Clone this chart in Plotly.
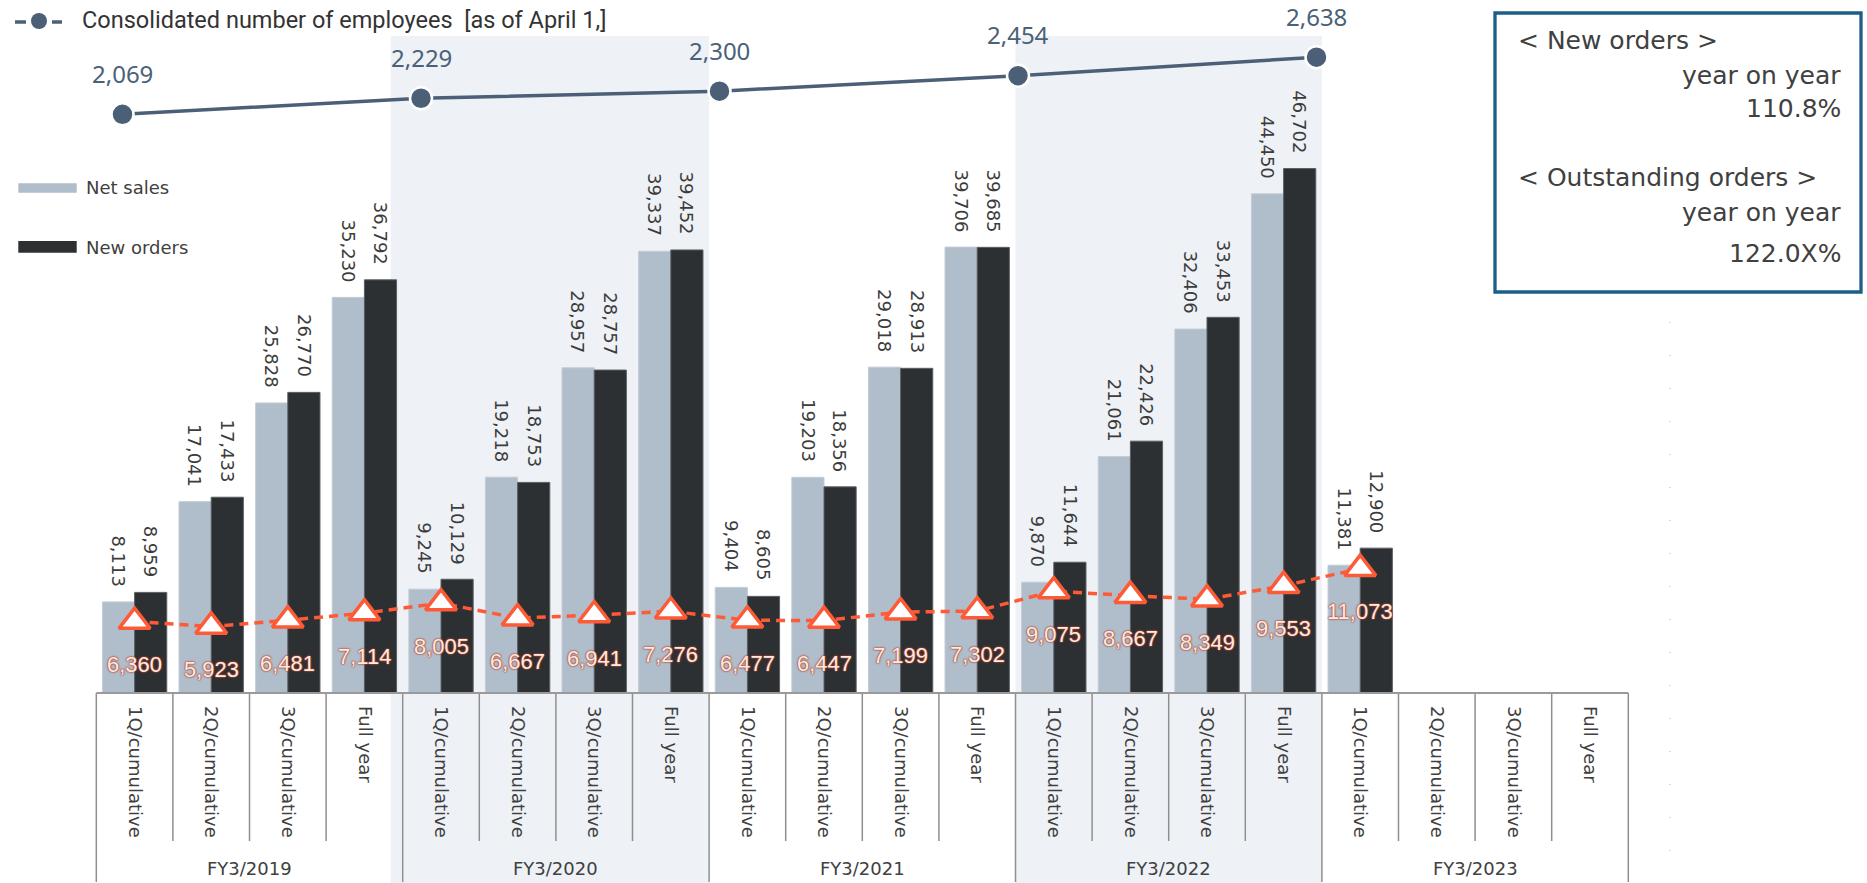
import plotly.graph_objects as go

# ---------------- data ----------------
quarters = ["1Q/cumulative", "2Q/cumulative", "3Q/cumulative", "Full year"]
fiscal_years = ["FY3/2019", "FY3/2020", "FY3/2021", "FY3/2022", "FY3/2023"]
net_sales = [8113, 17041, 25828, 35230, 9245, 19218, 28957, 39337,
             9404, 19203, 29018, 39706, 9870, 21061, 32406, 44450, 11381]
new_orders = [8959, 17433, 26770, 36792, 10129, 18753, 28757, 39452,
              8605, 18356, 28913, 39685, 11644, 22426, 33453, 46702, 12900]
outstanding = [6360, 5923, 6481, 7114, 8005, 6667, 6941, 7276,
               6477, 6447, 7199, 7302, 9075, 8667, 8349, 9553, 11073]
employees = [2069, 2229, 2300, 2454, 2638]
employee_legend = "Consolidated number of employees  [as of April 1,]"
bar_legend = ["Net sales", "New orders"]
box_lines = ["< New orders >", "year on year", "110.8%",
             "< Outstanding orders >", "year on year", "122.0X%"]
shaded_years = ["FY3/2020", "FY3/2022"]

# ---------------- geometry (pixels) ----------------
W, H = 1867, 883
BASE = 693            # baseline of bars in px from top
X_LEFT, X_RIGHT = 96.3, 1628.3
n_slots = len(quarters) * len(fiscal_years)
SLOT = (X_RIGHT - X_LEFT) / n_slots
PX_PER_UNIT = 0.01123
EMP_PX_PER_UNIT = 0.1003
EMP_BASE_PX = 578.7   # px above baseline of first employee point


def px(x):
    return x / W


def py(y):
    return (BASE - y) / BASE


slot_idx = list(range(len(net_sales)))
SALES_C = "#B0BDCA"
ORDERS_C = "#2C3033"
ORANGE = "#FF5A36"
EMP_C = "#4B5F77"
TXT = "#404040"
SANS = "DejaVu Sans"

fig = go.Figure()

fig.add_trace(go.Bar(x=slot_idx, y=net_sales, name=bar_legend[0],
                     marker=dict(color=SALES_C, line=dict(color="#c3ccd6", width=1)),
                     hoverinfo="skip"))
fig.add_trace(go.Bar(x=slot_idx, y=new_orders, name=bar_legend[1],
                     marker=dict(color=ORDERS_C, line=dict(color="#5a5f65", width=1)),
                     hoverinfo="skip"))
fig.add_trace(go.Scatter(x=slot_idx, y=outstanding, mode="lines+markers",
                         line=dict(color=ORANGE, width=3.5, dash="9px,6px"),
                         marker=dict(symbol="triangle-up", size=27, color="white",
                                     line=dict(color=ORANGE, width=3.5)),
                         hoverinfo="skip"))
fig.add_trace(go.Scatter(x=list(range(len(employees))), y=employees,
                         xaxis="x2", yaxis="y2", mode="lines+markers",
                         line=dict(color=EMP_C, width=3.5),
                         marker=dict(size=22, color=EMP_C, line=dict(color="white", width=2.5)),
                         hoverinfo="skip"))

ann = []
# bar value labels
for i, v in enumerate(net_sales):
    ann.append(dict(x=i - 0.21, y=v, xref="x", yref="y", text=f"{v:,}", textangle=90,
                    xanchor="center", yanchor="bottom", yshift=13, showarrow=False,
                    font=dict(family=SANS, size=18, color="#3C3C3C")))
for i, v in enumerate(new_orders):
    ann.append(dict(x=i + 0.21, y=v, xref="x", yref="y", text=f"{v:,}", textangle=90,
                    xanchor="center", yanchor="bottom", yshift=13, showarrow=False,
                    font=dict(family=SANS, size=18, color="#3C3C3C")))
# outstanding labels
sh = "0 0 2px #B8462C, 0 0 2px #B8462C, 0 0 1px #B8462C"
for i, v in enumerate(outstanding):
    ann.append(dict(x=i, y=v, xref="x", yref="y", text=f"{v:,}", showarrow=False,
                    xanchor="center", yanchor="middle", yshift=-43,
                    font=dict(family="Liberation Sans", size=22, color="#FCEAE3", shadow=sh)))
# employee labels
for i, v in enumerate(employees):
    ann.append(dict(x=i, y=v, xref="x2", yref="y2", text=f"{v:,}", showarrow=False,
                    xanchor="center", yanchor="middle", yshift=41,
                    font=dict(family="Noto Sans", size=24, color="#4A6178")))
# fiscal-year group labels
for g, fy in enumerate(fiscal_years):
    cx = X_LEFT + (g * 4 + 2) * SLOT
    ann.append(dict(x=px(cx), y=py(868), xref="paper", yref="paper", text=fy,
                    showarrow=False, xanchor="center", yanchor="middle",
                    font=dict(family=SANS, size=18, color=TXT)))
# employee legend
ann.append(dict(x=px(80), y=py(20), xref="paper", yref="paper", text=employee_legend,
                showarrow=False, xanchor="left", yanchor="middle",
                font=dict(family="Roboto", size=23.5, color="#333333")))
# bar legend
for k, (lab, yy) in enumerate(zip(bar_legend, [188, 247])):
    ann.append(dict(x=px(84), y=py(yy), xref="paper", yref="paper", text=lab,
                    showarrow=False, xanchor="left", yanchor="middle",
                    font=dict(family=SANS, size=18, color=TXT)))
# box text
box_y = [40, 75, 108, 177, 212, 253]
for k, (t, yy) in enumerate(zip(box_lines, box_y)):
    left = t.startswith("<")
    ann.append(dict(x=px(1516 if left else 1843), y=py(yy), xref="paper", yref="paper",
                    text=t, showarrow=False, xanchor="left" if left else "right",
                    yanchor="middle", font=dict(family=SANS, size=25, color=TXT)))

shapes = []
# shaded fiscal years
for fy in shaded_years:
    g = fiscal_years.index(fy)
    x0 = X_LEFT + g * 4 * SLOT - (12 if g == 1 else 0)
    x1 = X_LEFT + (g + 1) * 4 * SLOT
    shapes.append(dict(type="rect", xref="paper", yref="paper", x0=px(x0), x1=px(x1),
                       y0=py(H), y1=py(36), fillcolor="#EEF2F6", line=dict(width=0),
                       layer="below"))
# category box lines
for b in range(n_slots + 1):
    xx = X_LEFT + b * SLOT
    y_end = 882 if b % 4 == 0 else 841
    shapes.append(dict(type="line", xref="paper", yref="paper", x0=px(xx), x1=px(xx),
                       y0=py(BASE), y1=py(y_end), line=dict(color="#8f8f8f", width=1.5)))
shapes.append(dict(type="line", xref="paper", yref="paper", x0=px(X_LEFT), x1=px(X_RIGHT),
                   y0=py(BASE), y1=py(BASE), line=dict(color="#9a9a9a", width=2)))
# faint dotted separator
shapes.append(dict(type="line", xref="paper", yref="paper", x0=px(1670), x1=px(1670),
                   y0=py(322), y1=py(H), line=dict(color="#cfcfcf", width=1.5, dash="1px,32px")))
# box
shapes.append(dict(type="rect", xref="paper", yref="paper", x0=px(1495), x1=px(1861),
                   y0=py(292), y1=py(13), line=dict(color="#1B5E8A", width=3.3),
                   fillcolor="rgba(0,0,0,0)"))
# employee legend symbol
for a, b_ in [(15, 26), (52, 62)]:
    shapes.append(dict(type="line", xref="paper", yref="paper", x0=px(a), x1=px(b_),
                       y0=py(22), y1=py(22), line=dict(color=EMP_C, width=3.5)))
shapes.append(dict(type="circle", xref="paper", yref="paper", x0=px(31), x1=px(47),
                   y0=py(29), y1=py(13), fillcolor=EMP_C, line=dict(width=0)))
# bar legend swatches
shapes.append(dict(type="rect", xref="paper", yref="paper", x0=px(18.3), x1=px(76.7),
                   y0=py(192.7), y1=py(183.3), fillcolor=SALES_C, line=dict(width=0)))
shapes.append(dict(type="rect", xref="paper", yref="paper", x0=px(18.3), x1=px(76.7),
                   y0=py(252.7), y1=py(241), fillcolor=ORDERS_C, line=dict(width=0)))

emp_lo = employees[0] - EMP_BASE_PX / EMP_PX_PER_UNIT
emp_hi = emp_lo + BASE / EMP_PX_PER_UNIT
step = 298.5
e0 = 122.5

fig.update_layout(
    width=W, height=H,
    margin=dict(l=0, r=0, t=0, b=H - BASE, pad=0),
    paper_bgcolor="white", plot_bgcolor="rgba(0,0,0,0)",
    barmode="group", bargap=0.16, bargroupgap=0,
    showlegend=False,
    xaxis=dict(domain=[px(X_LEFT), px(X_RIGHT)], range=[-0.5, n_slots - 0.5],
               tickmode="array", tickvals=list(range(n_slots)),
               ticktext=quarters * len(fiscal_years), tickangle=90,
               tickfont=dict(family=SANS, size=18, color=TXT),
               ticks="", ticklabelstandoff=12, showgrid=False, zeroline=False,
               showline=False, fixedrange=True),
    yaxis=dict(range=[0, BASE / PX_PER_UNIT], visible=False, fixedrange=True),
    xaxis2=dict(overlaying="x", range=[(X_LEFT - e0) / step, (X_RIGHT - e0) / step],
                visible=False, fixedrange=True),
    yaxis2=dict(overlaying="y", range=[emp_lo, emp_hi], visible=False, fixedrange=True),
    annotations=ann,
    shapes=shapes,
)

fig.write_html("out.html", config={"displayModeBar": False})
